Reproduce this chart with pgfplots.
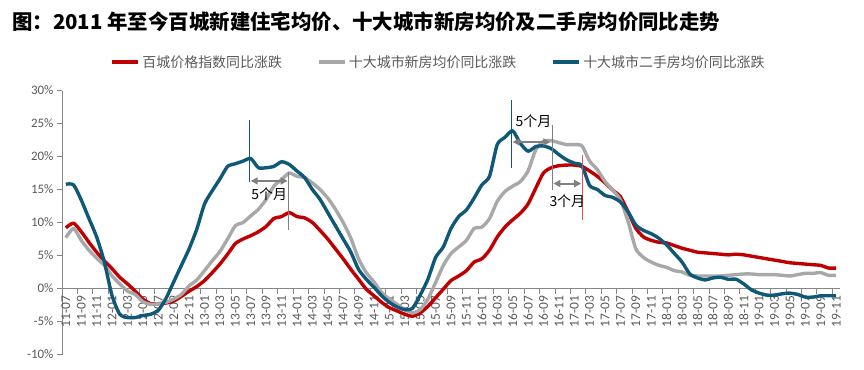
\documentclass[border=0pt]{standalone}
\usepackage{pgfplots}
\pgfplotsset{compat=1.18}
\usepackage{fontspec}
\setmainfont{Carlito}
\newfontfamily\cjk{Noto Sans CJK SC}
\usetikzlibrary{arrows.meta}
\definecolor{cred}{RGB}{192,0,0}
\definecolor{cgray}{RGB}{168,168,168}
\definecolor{cblue}{RGB}{14,88,120}
\definecolor{axisgray}{RGB}{134,134,134}
\definecolor{labelgray}{RGB}{89,89,89}
\definecolor{arrowgray}{RGB}{128,128,128}
\definecolor{lightred}{RGB}{228,80,80}
\begin{document}
\begin{tikzpicture}
\useasboundingbox (-62bp,-15.5bp) rectangle (802bp,354.5bp);
\node[anchor=west,inner sep=0pt] at (-50bp,332.5bp) {\cjk\bfseries\fontsize{20.5}{22}\selectfont 图：2011 年至今百城新建住宅均价、十大城市新房均价及二手房均价同比走势};
\begin{axis}[
  at={(0,0)}, anchor=south west, scale only axis,
  width=778bp, height=264bp,
  xmin=-0.5, xmax=100.5, ymin=-10, ymax=30,
  axis x line=middle, axis y line=left,
  axis line style={-, draw=axisgray, line width=0.8bp},
  xtick={0,2,...,100},
  xticklabels={11-07,11-09,11-11,12-01,12-03,12-05,12-07,12-09,12-11,13-01,13-03,13-05,13-07,13-09,13-11,14-01,14-03,14-05,14-07,14-09,14-11,15-01,15-03,15-05,15-07,15-09,15-11,16-01,16-03,16-05,16-07,16-09,16-11,17-01,17-03,17-05,17-07,17-09,17-11,18-01,18-03,18-05,18-07,18-09,18-11,19-01,19-03,19-05,19-07,19-09,19-11},
  major x tick style={draw=none},
  minor xtick={-0.5,1.5,...,99.5},
  minor x tick style={draw=axisgray, line width=0.8bp},
  ytick={-10,-5,...,30},
  ytick style={draw=axisgray, line width=0.8bp},
  tick align=outside, major tick length=5bp, minor tick length=5bp,
  yticklabel={\pgfmathprintnumber{\tick}\%},
  /pgf/number format/assume math mode=true,
  xticklabel style={rotate=90, anchor=east, font=\fontsize{13.5}{14}\selectfont, text=labelgray, inner sep=2bp},
  yticklabel style={font=\fontsize{13}{14}\selectfont, text=labelgray},
  legend columns=3,
  legend style={at={(0.484,1.108)}, anchor=center, draw=none, fill=none,
    font=\cjk\fontsize{14}{15}\selectfont, text=labelgray,
    /tikz/every even column/.append style={column sep=33bp}},
  legend image code/.code={\draw[#1, line width=4bp] (0bp,0bp) -- (26bp,0bp);},
  every axis plot/.append style={line width=3.4bp, smooth, tension=0.4, line join=round},
]
\addplot[cred] coordinates {
(0,9.2)(1,9.9)(2,8.6)(3,7.0)(4,5.5)(5,4.2)(6,3.0)(7,1.7)(8,0.7)(9,-0.4)
(10,-1.6)(11,-2.3)(12,-2.3)(13,-2.2)(14,-1.9)(15,-1.2)(16,-0.4)(17,0.3)(18,1.2)(19,2.4)
(20,3.7)(21,5.2)(22,6.8)(23,7.5)(24,8.0)(25,8.6)(26,9.4)(27,10.6)(28,10.9)(29,11.5)
(30,10.9)(31,10.7)(32,10.0)(33,8.8)(34,7.5)(35,6.0)(36,4.5)(37,2.9)(38,1.4)(39,-0.1)
(40,-1.1)(41,-2.1)(42,-2.9)(43,-3.4)(44,-3.9)(45,-4.2)(46,-3.7)(47,-2.7)(48,-1.4)(49,-0.1)
(50,1.2)(51,1.9)(52,2.7)(53,4.0)(54,4.5)(55,5.8)(56,7.8)(57,9.3)(58,10.4)(59,11.4)
(60,12.8)(61,15.2)(62,17.5)(63,18.3)(64,18.6)(65,18.7)(66,18.7)(67,18.5)(68,17.8)(69,17.0)
(70,16.0)(71,14.9)(72,13.9)(73,11.6)(74,9.1)(75,7.8)(76,7.3)(77,7.0)(78,6.9)(79,6.5)
(80,6.1)(81,5.8)(82,5.5)(83,5.4)(84,5.3)(85,5.2)(86,5.1)(87,5.2)(88,5.1)(89,4.9)
(90,4.7)(91,4.5)(92,4.3)(93,4.1)(94,3.9)(95,3.8)(96,3.7)(97,3.6)(98,3.5)(99,3.1)(100,3.1)
};
\addlegendentry{百城价格指数同比涨跌}
\addplot[cgray] coordinates {
(0,7.7)(1,9.1)(2,7.3)(3,5.8)(4,4.6)(5,3.5)(6,1.9)(7,0.7)(8,-0.4)(9,-0.9)
(10,-2.0)(11,-2.4)(12,-2.3)(13,-2.1)(14,-1.6)(15,-0.9)(16,0.4)(17,1.3)(18,2.7)(19,4.2)
(20,5.6)(21,7.5)(22,9.5)(23,10.0)(24,11.0)(25,12.0)(26,13.5)(27,15.5)(28,16.5)(29,17.5)
(30,17.0)(31,16.8)(32,16.0)(33,15.0)(34,13.7)(35,12.0)(36,10.0)(37,7.6)(38,4.5)(39,2.4)
(40,1.0)(41,-0.6)(42,-1.6)(43,-2.4)(44,-3.2)(45,-3.7)(46,-3.2)(47,-1.6)(48,0.9)(49,3.5)
(50,5.3)(51,6.3)(52,7.3)(53,9.1)(54,9.3)(55,10.6)(56,13.2)(57,14.7)(58,15.5)(59,16.2)
(60,17.8)(61,21.0)(62,22.3)(63,22.4)(64,22.1)(65,21.8)(66,21.8)(67,21.6)(68,19.3)(69,18.0)
(70,16.2)(71,14.9)(72,13.4)(73,10.1)(74,6.0)(75,4.7)(76,4.0)(77,3.5)(78,3.2)(79,2.7)
(80,2.5)(81,2.0)(82,1.9)(83,1.9)(84,1.9)(85,1.9)(86,2.0)(87,2.1)(88,2.2)(89,2.2)
(90,2.1)(91,2.1)(92,2.1)(93,2.0)(94,1.9)(95,2.1)(96,2.3)(97,2.3)(98,2.4)(99,2.0)(100,2.0)
};
\addlegendentry{十大城市新房均价同比涨跌}
\addplot[cblue] coordinates {
(0,15.8)(1,15.7)(2,13.4)(3,10.6)(4,7.8)(5,4.0)(6,-1.1)(7,-3.9)(8,-4.4)(9,-4.4)
(10,-4.1)(11,-3.9)(12,-3.3)(13,-1.5)(14,1.0)(15,3.5)(16,6.0)(17,9.0)(18,12.8)(19,14.8)
(20,16.6)(21,18.5)(22,18.9)(23,19.3)(24,19.7)(25,18.3)(26,18.3)(27,18.5)(28,19.2)(29,18.8)
(30,17.8)(31,16.8)(32,15.0)(33,13.5)(34,11.5)(35,9.5)(36,7.5)(37,5.5)(38,2.9)(39,1.4)
(40,0.2)(41,-1.1)(42,-2.1)(43,-2.8)(44,-3.2)(45,-3.0)(46,-1.0)(47,1.4)(48,4.7)(49,6.3)
(50,9.1)(51,10.9)(52,11.9)(53,13.7)(54,15.7)(55,17.0)(56,21.8)(57,22.9)(58,23.9)(59,22.0)
(60,20.8)(61,21.5)(62,21.6)(63,21.2)(64,20.3)(65,19.5)(66,19.0)(67,18.6)(68,15.6)(69,15.0)
(70,14.1)(71,13.8)(72,13.1)(73,11.6)(74,9.6)(75,8.8)(76,8.3)(77,7.6)(78,6.6)(79,5.3)
(80,4.0)(81,2.2)(82,1.6)(83,1.3)(84,1.6)(85,1.7)(86,1.4)(87,1.4)(88,0.7)(89,-0.2)
(90,-0.7)(91,-1.0)(92,-1.0)(93,-0.8)(94,-0.7)(95,-0.9)(96,-1.3)(97,-1.3)(98,-1.1)(99,-1.1)(100,-1.1)
};
\addlegendentry{十大城市二手房均价同比涨跌}
% annotations
\draw[cblue, line width=1bp] (axis cs:23.9,25.5) -- (axis cs:23.9,16.2);
\draw[arrowgray, line width=1bp] (axis cs:28.96,17.7) -- (axis cs:28.96,8.86);
\draw[arrowgray, line width=2bp, {Triangle[length=7bp,width=7bp]}-{Triangle[length=7bp,width=7bp]}] (axis cs:24.0,16.3) -- (axis cs:28.8,16.3);
\node[font=\cjk\fontsize{14}{15}\selectfont, text=black, inner sep=0pt] at (axis cs:26.4,14.3) {5个月};
\draw[cblue, line width=1bp] (axis cs:57.85,28.6) -- (axis cs:57.85,18.3);
\draw[arrowgray, line width=1bp] (axis cs:63.16,24.8) -- (axis cs:63.16,14.9);
\draw[arrowgray, line width=2bp, {Triangle[length=7bp,width=7bp]}-{Triangle[length=7bp,width=7bp]}] (axis cs:58.0,22.2) -- (axis cs:62.9,22.2);
\node[font=\cjk\fontsize{14}{15}\selectfont, text=black, inner sep=0pt] at (axis cs:60.7,25.3) {5个月};
\draw[lightred, line width=1bp] (axis cs:67.05,20.2) -- (axis cs:67.05,10.4);
\draw[arrowgray, line width=2bp, {Triangle[length=7bp,width=7bp]}-{Triangle[length=7bp,width=7bp]}] (axis cs:63.3,15.9) -- (axis cs:66.9,15.9);
\node[font=\cjk\fontsize{14}{15}\selectfont, text=black, inner sep=0pt] at (axis cs:65.1,13.3) {3个月};
\end{axis}
\end{tikzpicture}
\end{document}
